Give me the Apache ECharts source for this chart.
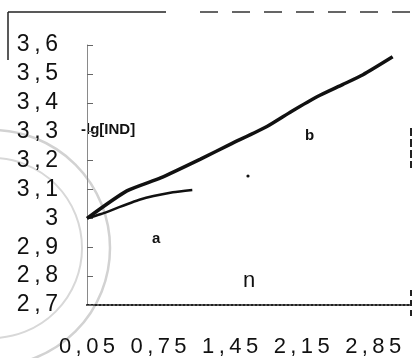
<!DOCTYPE html>
<html>
<head>
<meta charset="utf-8">
<script src="https://cdn.jsdelivr.net/npm/echarts@6/dist/echarts.min.js"></script>
<style>
  html, body { margin: 0; padding: 0; background: #fff; }
  #chart { width: 414px; height: 358px; }
</style>
</head>
<body>
<div id="chart"></div>
<script>
// values
let x_ticks = [0.05, 0.75, 1.45, 2.15, 2.85];
let curve_b = [[0.05, 3.0], [0.44, 3.095], [0.77, 3.14], [1.16, 3.205], [1.45, 3.256], [1.81, 3.318],
               [2.05, 3.37], [2.3, 3.421], [2.55, 3.463], [2.75, 3.497], [3.04, 3.559]];
let curve_a = [[0.05, 3.0], [0.18, 3.014], [0.57, 3.065], [0.89, 3.09], [1.08, 3.098]];

// comma decimals, spaced out a little like the scan
function commaLabel(v){
    let s = (Math.round(v * 100) / 100).toString().replace('.', ',');
    return s.split('').join('\u2009');
}

FigChart = echarts.init(document.getElementById('chart'));

fig_chart = {
    animation: false,
    grid: { left: 87, right: 5, top: 45, bottom: 51 },
    xAxis: {
        type: 'value',
        min: 0.05,
        max: 3.2,
        splitLine: { show: false },
        axisLine: { show: true, lineStyle: { color: '#222', width: 2, type: [2, 2] } },
        axisTick: { show: false },
        axisLabel: {
            customValues: x_ticks,
            formatter: commaLabel,
            color: '#111',
            fontSize: 22,
            fontFamily: 'Liberation Sans',
            margin: 31
        }
    },
    yAxis: {
        type: 'value',
        min: 2.7,
        max: 3.6,
        interval: 0.1,
        splitLine: { show: false },
        axisLine: { show: true, lineStyle: { color: '#8a8a8a', width: 1 } },
        axisTick: { show: true, inside: true, length: 6, lineStyle: { color: '#666' } },
        axisLabel: {
            formatter: commaLabel,
            color: '#111',
            fontSize: 23,
            fontFamily: 'Liberation Sans',
            margin: 29
        }
    },
    series: [
        {
            name: 'b',
            type: 'line',
            data: curve_b,
            smooth: 0.2,
            showSymbol: false,
            lineStyle: { color: '#111', width: 3.5 },
            z: 3
        },
        {
            name: 'a',
            type: 'line',
            data: curve_a,
            smooth: 0.2,
            showSymbol: false,
            lineStyle: { color: '#111', width: 2.5 },
            z: 3
        }
    ],
    graphic: [
        // faint seal in the background of the scan
        { type: 'circle', shape: { cx: -8, cy: 248, r: 118 }, style: { fill: 'none', stroke: '#d2d2d2', lineWidth: 2.5 }, z: -1 },
        { type: 'circle', shape: { cx: -8, cy: 248, r: 90 }, style: { fill: 'none', stroke: '#d8d8d8', lineWidth: 2 }, z: -1 },
        // frame remnants
        { type: 'line', shape: { x1: 8, y1: 12, x2: 166, y2: 12 }, style: { stroke: '#222', lineWidth: 1.5 } },
        { type: 'line', shape: { x1: 200, y1: 12, x2: 410, y2: 12 }, style: { stroke: '#333', lineWidth: 1.5, lineDash: [18, 14] } },
        { type: 'line', shape: { x1: 8, y1: 12, x2: 8, y2: 60 }, style: { stroke: '#222', lineWidth: 1.5 } },
        { type: 'line', shape: { x1: 411, y1: 128, x2: 411, y2: 168 }, style: { stroke: '#222', lineWidth: 2, lineDash: [8, 3] } },
        { type: 'line', shape: { x1: 411, y1: 290, x2: 411, y2: 318 }, style: { stroke: '#222', lineWidth: 2, lineDash: [6, 4] } },
        // texts inside the plot
        { type: 'text', left: 81, top: 122, style: { text: '-lg[IND]', font: 'bold 15px Liberation Sans', fill: '#111' } },
        { type: 'text', left: 305, top: 128, style: { text: 'b', font: 'bold 15px Liberation Sans', fill: '#111' } },
        { type: 'text', left: 152, top: 231, style: { text: 'a', font: 'bold 15px Liberation Sans', fill: '#111' } },
        { type: 'text', left: 243, top: 270, style: { text: 'n', font: '22px Liberation Sans', fill: '#111' } },
        { type: 'circle', shape: { cx: 248, cy: 176, r: 1.6 }, style: { fill: '#111' } }
    ]
};

FigChart.setOption(fig_chart);
</script>
</body>
</html>
